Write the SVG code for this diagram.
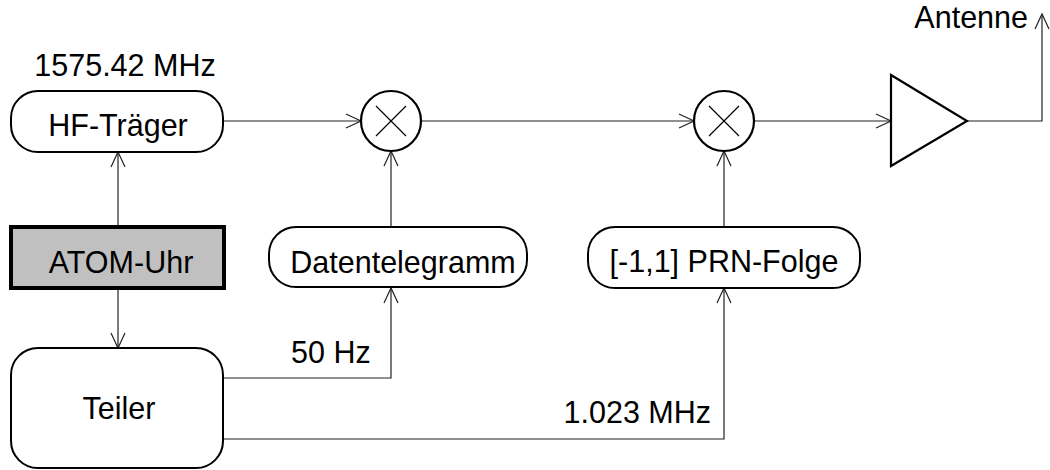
<svg xmlns="http://www.w3.org/2000/svg" width="1050" height="470" viewBox="0 0 1050 470">
<defs>
<style>
.box{fill:#fff;stroke:#000;stroke-width:2}
.atom{fill:#c0c0c0;stroke:#000;stroke-width:4}
.conn{fill:none;stroke:#222;stroke-width:1.2}
.sym{fill:#fff;stroke:#000;stroke-width:2.2}
.x{stroke:#000;stroke-width:1.2}
text{font-family:"Liberation Sans",Arial,sans-serif;font-size:30.5px;fill:#000}
.c{text-anchor:middle}
</style>
<marker id="arr" markerWidth="20" markerHeight="20" refX="16" refY="8" orient="auto" markerUnits="userSpaceOnUse" viewBox="0 0 20 16">
<path d="M1,1 L16,8 L1,15" fill="none" stroke="#222" stroke-width="1.2"/>
</marker>
</defs>
<rect width="1050" height="470" fill="#fff"/>
<g id="connectors">
<path class="conn" d="M118,226 V152" marker-end="url(#arr)"/>
<path class="conn" d="M118,289 V348" marker-end="url(#arr)"/>
<path class="conn" d="M223,121 H361" marker-end="url(#arr)"/>
<path class="conn" d="M421,121 H694" marker-end="url(#arr)"/>
<path class="conn" d="M754,121 H891" marker-end="url(#arr)"/>
<path class="conn" d="M967,121 H1042 V14" marker-end="url(#arr)"/>
<path class="conn" d="M391,227 V151" marker-end="url(#arr)"/>
<path class="conn" d="M724,227 V151" marker-end="url(#arr)"/>
<path class="conn" d="M223,378 H391 V288" marker-end="url(#arr)"/>
<path class="conn" d="M223,439 H724 V288" marker-end="url(#arr)"/>
</g>
<g id="hf">
<rect class="box" x="11" y="91" width="212" height="61" rx="27"/>
<text class="c" x="118" y="136">HF-Träger</text>
</g>
<text class="c" x="125" y="76">1575.42 MHz</text>
<g id="atom">
<rect class="atom" x="11" y="227" width="213" height="61"/>
<text class="c" x="121" y="273">ATOM-Uhr</text>
</g>
<g id="teiler">
<rect class="box" x="11" y="348" width="212" height="120" rx="27"/>
<text class="c" x="119" y="419">Teiler</text>
</g>
<g id="daten">
<rect class="box" x="269" y="227" width="258" height="60" rx="27"/>
<text class="c" x="403" y="273">Datentelegramm</text>
</g>
<g id="prn">
<rect class="box" x="588" y="227" width="272" height="61" rx="27"/>
<text class="c" x="724" y="272">[-1,1] PRN-Folge</text>
</g>
<g id="mix1">
<circle class="sym" cx="391" cy="121" r="30"/>
<path class="x" d="M376,106 L406,136 M406,106 L376,136"/>
</g>
<g id="mix2">
<circle class="sym" cx="724" cy="121" r="30"/>
<path class="x" d="M709,106 L739,136 M739,106 L709,136"/>
</g>
<g id="amp">
<path class="sym" d="M891,75 L967,121 L891,166 Z"/>
</g>
<g id="labels">
<text x="291" y="363">50 Hz</text>
<text x="711" y="423" text-anchor="end">1.023 MHz</text>
<text x="1028" y="28" text-anchor="end">Antenne</text>
</g>
</svg>
